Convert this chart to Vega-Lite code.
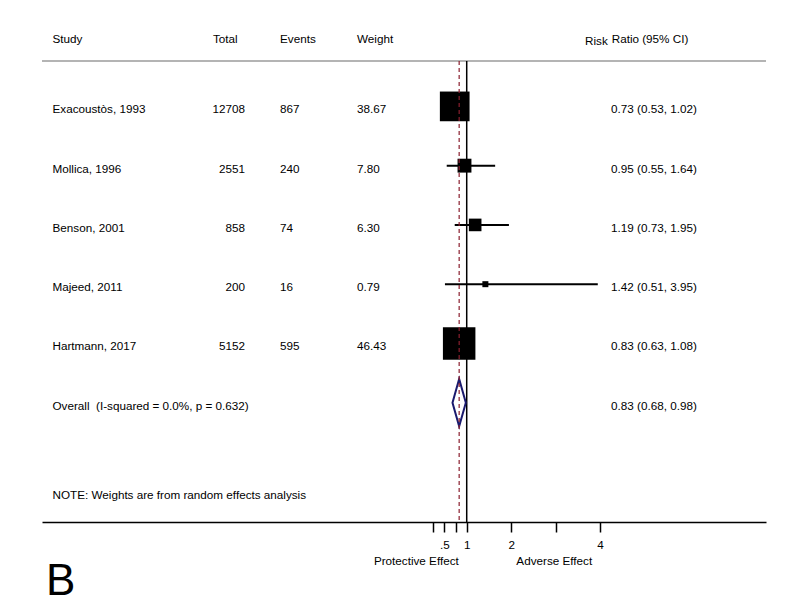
{
  "$schema": "https://vega.github.io/schema/vega-lite/v6.json",
  "width": 724,
  "height": 461,
  "autosize": {"type": "none"},
  "padding": {"left": 42, "top": 61, "right": 34, "bottom": 86},
  "background": "white",
  "config": {
    "view": {"stroke": null},
    "text": {"font": "Liberation Sans", "fontSize": 11.7, "color": "black"}
  },
  "title": {"text": "B", "orient": "bottom", "anchor": "start", "frame": "bounds", "font": "Liberation Sans", "fontSize": 44, "fontWeight": "normal", "color": "black", "offset": -7, "dx": 5},
  "datasets": {
    "rows": [
      {"kind": "study", "order": 1, "study": "Exacoustòs, 1993", "total": 12708, "events": 867, "weight": 38.67, "rr": 0.73, "lo": 0.53, "hi": 1.02, "rr_label": "0.73 (0.53, 1.02)"},
      {"kind": "study", "order": 2, "study": "Mollica, 1996", "total": 2551, "events": 240, "weight": 7.80, "rr": 0.95, "lo": 0.55, "hi": 1.64, "rr_label": "0.95 (0.55, 1.64)"},
      {"kind": "study", "order": 3, "study": "Benson, 2001", "total": 858, "events": 74, "weight": 6.30, "rr": 1.19, "lo": 0.73, "hi": 1.95, "rr_label": "1.19 (0.73, 1.95)"},
      {"kind": "study", "order": 4, "study": "Majeed, 2011", "total": 200, "events": 16, "weight": 0.79, "rr": 1.42, "lo": 0.51, "hi": 3.95, "rr_label": "1.42 (0.51, 3.95)"},
      {"kind": "study", "order": 5, "study": "Hartmann, 2017", "total": 5152, "events": 595, "weight": 46.43, "rr": 0.83, "lo": 0.63, "hi": 1.08, "rr_label": "0.83 (0.63, 1.08)"},
      {"kind": "overall", "order": 6, "study": "Overall \u00a0(I-squared = 0.0%, p = 0.632)", "rr": 0.83, "lo": 0.68, "hi": 0.98, "rr_label": "0.83 (0.68, 0.98)"}
    ],
    "header": [
      {"study": "Study", "total": "Total", "events": "Events", "weight": "Weight", "risk": "Risk", "ratio": "Ratio (95% CI)"}
    ],
    "note": [
      {"text": "NOTE: Weights are from random effects analysis"}
    ]
  },
  "data": {"name": "rows"},
  "layer": [
    {
      "data": {"values": [{}]},
      "mark": {"type": "rule", "color": "#b4b4b4", "strokeWidth": 2},
      "encoding": {
        "y": {"datum": 0.234, "type": "quantitative", "scale": {"domain": [0.234, 8.013], "reverse": true, "nice": false, "zero": false}, "axis": null}
      }
    },
    {
      "data": {"values": [{}]},
      "mark": {"type": "rule", "color": "black", "strokeWidth": 1.5},
      "encoding": {
        "x": {
          "datum": 1, "type": "quantitative",
          "scale": {"domain": [-8.559, 7.736], "nice": false, "zero": false},
          "axis": {
            "title": null, "grid": false,
            "values": [0.25, 0.5, 0.75, 1, 2, 3, 4],
            "labelExpr": "datum.value == 0.5 ? '.5' : datum.value == 1 ? '1' : datum.value == 2 ? '2' : datum.value == 4 ? '4' : ''",
            "domainColor": "black", "domainWidth": 1.5,
            "tickColor": "black", "tickWidth": 1.5, "tickSize": 10,
            "labelFont": "Liberation Sans", "labelFontSize": 11.7, "labelColor": "black",
            "labelPadding": 7.5, "labelOverlap": false, "labelFlush": false
          }
        }
      }
    },
    {
      "transform": [{"filter": "datum.kind == 'study'"}],
      "mark": {"type": "rule", "color": "black", "strokeWidth": 2},
      "encoding": {
        "x": {"field": "lo", "type": "quantitative", "title": null},
        "x2": {"field": "hi"},
        "y": {"field": "order", "type": "quantitative", "title": null}
      }
    },
    {
      "transform": [{"filter": "datum.kind == 'study'"}],
      "mark": {"type": "square", "color": "black", "filled": true, "opacity": 1},
      "encoding": {
        "x": {"field": "rr", "type": "quantitative", "title": null},
        "y": {"field": "order", "type": "quantitative", "title": null},
        "size": {"field": "weight", "type": "quantitative", "scale": {"domain": [0.79, 46.43], "range": [36, 1056], "zero": false}, "legend": null}
      }
    },
    {
      "transform": [{"filter": "datum.kind == 'overall'"}],
      "mark": {"type": "point", "shape": "M-0.282,0L0,-1L0.282,0L0,1Z", "size": 2237, "filled": false, "fill": "white", "fillOpacity": 1, "stroke": "#1a1a6e", "strokeWidth": 2, "opacity": 1},
      "encoding": {
        "x": {"field": "rr", "type": "quantitative", "title": null},
        "y": {"field": "order", "type": "quantitative", "title": null}
      }
    },
    {
      "transform": [{"filter": "datum.kind == 'overall'"}],
      "mark": {"type": "rule", "color": "#8b1f2e", "strokeWidth": 1.2, "strokeDash": [4, 3]},
      "encoding": {
        "x": {"field": "rr", "type": "quantitative", "title": null}
      }
    },
    {
      "mark": {"type": "text", "align": "left", "baseline": "alphabetic", "dy": 7},
      "encoding": {
        "x": {"value": 10.5},
        "y": {"field": "order", "type": "quantitative"},
        "text": {"field": "study"}
      }
    },
    {
      "transform": [{"filter": "datum.kind == 'study'"}],
      "mark": {"type": "text", "align": "right", "baseline": "alphabetic", "dy": 7},
      "encoding": {
        "x": {"value": 203},
        "y": {"field": "order", "type": "quantitative"},
        "text": {"field": "total", "type": "quantitative", "format": "d"}
      }
    },
    {
      "transform": [{"filter": "datum.kind == 'study'"}],
      "mark": {"type": "text", "align": "left", "baseline": "alphabetic", "dy": 7},
      "encoding": {
        "x": {"value": 238},
        "y": {"field": "order", "type": "quantitative"},
        "text": {"field": "events", "type": "quantitative", "format": "d"}
      }
    },
    {
      "transform": [{"filter": "datum.kind == 'study'"}],
      "mark": {"type": "text", "align": "left", "baseline": "alphabetic", "dy": 7},
      "encoding": {
        "x": {"value": 315},
        "y": {"field": "order", "type": "quantitative"},
        "text": {"field": "weight", "type": "quantitative", "format": ".2f"}
      }
    },
    {
      "mark": {"type": "text", "align": "left", "baseline": "alphabetic", "dy": 7},
      "encoding": {
        "x": {"value": 569},
        "y": {"field": "order", "type": "quantitative"},
        "text": {"field": "rr_label"}
      }
    },
    {
      "data": {"name": "header"},
      "mark": {"type": "text", "align": "left", "baseline": "alphabetic", "dy": 7},
      "encoding": {"x": {"value": 10.5}, "y": {"datum": -0.193}, "text": {"field": "study"}}
    },
    {
      "data": {"name": "header"},
      "mark": {"type": "text", "align": "left", "baseline": "alphabetic", "dy": 7},
      "encoding": {"x": {"value": 171}, "y": {"datum": -0.193}, "text": {"field": "total"}}
    },
    {
      "data": {"name": "header"},
      "mark": {"type": "text", "align": "left", "baseline": "alphabetic", "dy": 7},
      "encoding": {"x": {"value": 238}, "y": {"datum": -0.193}, "text": {"field": "events"}}
    },
    {
      "data": {"name": "header"},
      "mark": {"type": "text", "align": "left", "baseline": "alphabetic", "dy": 7},
      "encoding": {"x": {"value": 315}, "y": {"datum": -0.193}, "text": {"field": "weight"}}
    },
    {
      "data": {"name": "header"},
      "mark": {"type": "text", "align": "left", "baseline": "alphabetic", "dy": 9},
      "encoding": {"x": {"value": 543}, "y": {"datum": -0.193}, "text": {"field": "risk"}}
    },
    {
      "data": {"name": "header"},
      "mark": {"type": "text", "align": "left", "baseline": "alphabetic", "dy": 7},
      "encoding": {"x": {"value": 569.7}, "y": {"datum": -0.193}, "text": {"field": "ratio"}}
    },
    {
      "data": {"name": "note"},
      "mark": {"type": "text", "align": "left", "baseline": "alphabetic", "dy": 7},
      "encoding": {"x": {"value": 10.5}, "y": {"datum": 7.5}, "text": {"field": "text"}}
    },
    {
      "data": {"values": [{"label": "Protective Effect"}]},
      "mark": {"type": "text", "align": "center", "baseline": "alphabetic"},
      "encoding": {"x": {"datum": -0.134}, "y": {"datum": 8.734}, "text": {"field": "label"}}
    },
    {
      "data": {"values": [{"label": "Adverse Effect"}]},
      "mark": {"type": "text", "align": "center", "baseline": "alphabetic"},
      "encoding": {"x": {"datum": 2.97}, "y": {"datum": 8.734}, "text": {"field": "label"}}
    }
  ]
}
